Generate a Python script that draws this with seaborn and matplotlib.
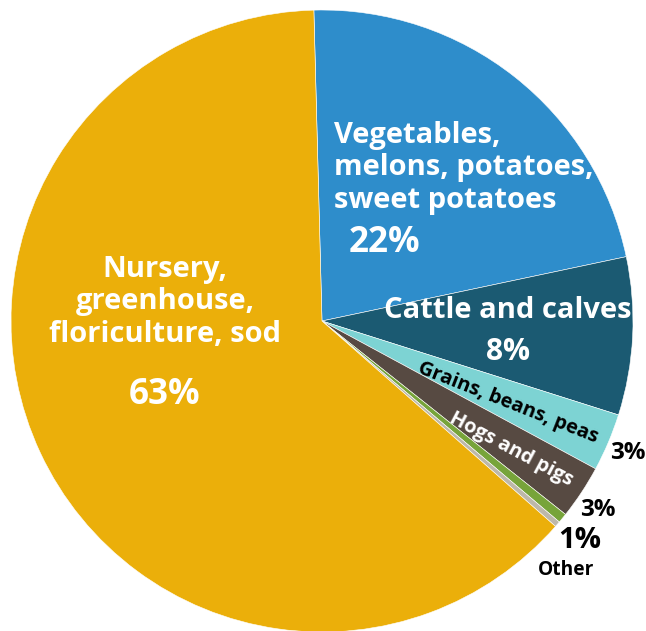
import matplotlib
matplotlib.use("Agg")
import matplotlib.pyplot as plt
import seaborn as sns

# ---- data ----
categories = ["Vegetables, melons, potatoes, sweet potatoes", "Cattle and calves",
              "Grains, beans, peas", "Hogs and pigs", "Other A", "Other B",
              "Nursery, greenhouse, floriculture, sod"]
values = [22.1, 8.2, 3.0, 2.8, 0.5, 0.3, 63.1]
pct_labels = ["22%", "8%", "3%", "3%", "1%", "63%"]
colors = ["#2E8DCB", "#1B5A72", "#7DD3D3", "#574A42", "#77A43A", "#BDB8AA", "#EBAF0A"]

sns.set_theme(style="white")
plt.rcParams['font.family'] = ['Open Sans', 'DejaVu Sans']

W, H = 646, 631
fig = plt.figure(figsize=(W / 100, H / 100), dpi=100)
ax = fig.add_axes([0, 0, 1, 1])
ax.set_xlim(0, W)
ax.set_ylim(0, H)
ax.set_aspect("equal")
ax.axis("off")

cx, cy, r = 322, H - 321, 311
ax.pie(values, colors=colors, startangle=91.5, counterclock=False,
       center=(cx, cy), radius=r,
       wedgeprops=dict(edgecolor="white", linewidth=0.4))
ax.set_xlim(0, W)
ax.set_ylim(0, H)


def T(x, y, s, **kw):
    kw.setdefault("ha", "center")
    kw.setdefault("va", "center")
    kw.setdefault("fontweight", "bold")
    ax.text(x, H - y, s, **kw)


k = 1.2
# Nursery
T(165, 302, "Nursery,\ngreenhouse,\nfloriculture, sod", color="white", fontsize=17.5 * k,
  linespacing=1.16)
T(165, 395, "63%", color="white", fontsize=21 * k)
# Vegetables
T(334, 168, "Vegetables,\nmelons, potatoes,\nsweet potatoes", color="white", fontsize=17.5 * k,
  ha="left", linespacing=1.16)
T(384, 243, "22%", color="white", fontsize=21 * k)
# Cattle
T(508, 311, "Cattle and calves", color="white", fontsize=17.5 * k)
T(508, 352, "8%", color="white", fontsize=18 * k)
# Grains
T(508, 403, "Grains, beans, peas", color="black", fontsize=12 * k, rotation=-21.5,
  rotation_mode="anchor")
T(628, 453, "3%", color="black", fontsize=14.5 * k)
# Hogs
T(511, 449, "Hogs and pigs", color="white", fontsize=12 * k, rotation=-28,
  rotation_mode="anchor")
T(598, 510, "3%", color="black", fontsize=14.5 * k)
# Other
T(580, 541, "1%", color="black", fontsize=17.5 * k)
T(566, 570, "Other", color="black", fontsize=11.5 * k)

fig.savefig("out.png", dpi=100)
